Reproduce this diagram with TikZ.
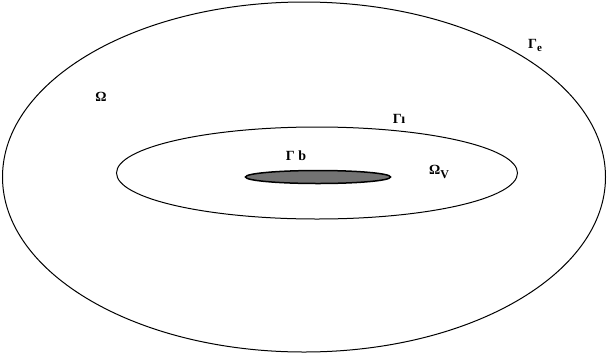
\documentclass[tikz,border=0pt]{standalone}
\usepackage{fontspec}
\setmainfont{Liberation Serif}
\usetikzlibrary{shapes.geometric}
\begin{document}
\begin{tikzpicture}[x=1pt,y=-1pt,
  lbl/.style={font=\bfseries\fontsize{14}{15}\selectfont, inner sep=0pt},
  curve/.style={draw=black, line width=1pt}]
\useasboundingbox (0,0) rectangle (607,354);
\node[curve, ellipse, minimum width=603pt, minimum height=350pt, inner sep=0pt] (outer) at (304,177) {};
\node[curve, ellipse, minimum width=401pt, minimum height=92pt, inner sep=0pt] (inner) at (317,173) {};
\node[draw=black, line width=1.5pt, fill=black!55, ellipse, minimum width=145pt, minimum height=13pt, inner sep=0pt] (core) at (318,177) {};
\node[lbl] (om) at (101,97) {Ω};
\node[lbl] (gi) at (399,119) {Γ\kern-0.5pt\raisebox{-0.5pt}{ı}};
\node[lbl] (gb) at (296,156) {Γ b};
\node[lbl] (ov) at (439,172) {Ω\raisebox{-3.5pt}{\fontsize{12}{12}\selectfont V}};
\node[lbl] (ge) at (535,45) {Γ\raisebox{-3pt}{\fontsize{11}{11}\selectfont e}};
\end{tikzpicture}
\end{document}
